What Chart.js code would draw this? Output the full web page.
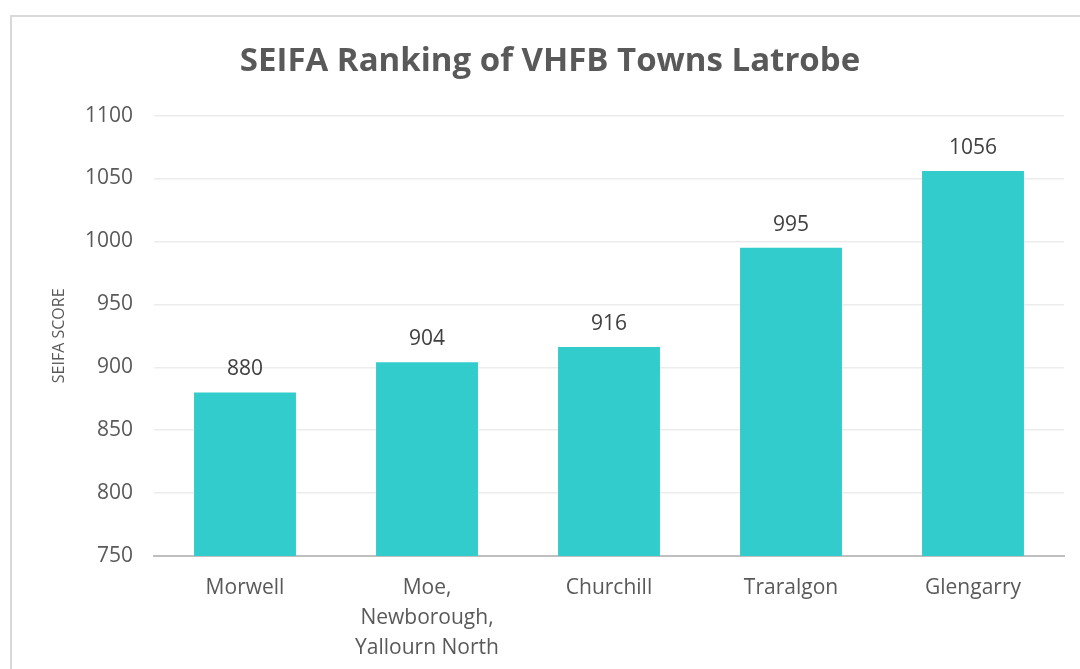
<!DOCTYPE html>
<html>
<head>
<meta charset="utf-8">
<title>SEIFA Ranking</title>
<script src="https://cdn.jsdelivr.net/npm/chart.js@4.4.0/dist/chart.umd.min.js"></script>
<style>
  body { margin: 0; background: #fff; overflow: hidden; }
  .box { position: absolute; left: 10px; top: 15px; width: 1100px; height: 700px; border: 2px solid #d9d9d9; box-sizing: border-box; }
  .wrap { position: absolute; left: 10px; top: 15px; width: 1080px; height: 700px; }
</style>
</head>
<body>
<div class="box"></div>
<div class="wrap"><canvas id="gr1"></canvas></div>
<script>
const towns = ['Morwell', ['Moe,', 'Newborough,', 'Yallourn North'], 'Churchill', 'Traralgon', 'Glengarry'];
const seifaScores = [880, 904, 916, 995, 1056];
const yTicks = { min: 750, max: 1100, step: 50 };

const FONT = '"Open Sans", Lato, sans-serif';

// draw value above each bar
const valueLabels = {
  id: 'valueLabels',
  afterDatasetsDraw(chart) {
    const ctx = chart.ctx;
    const meta = chart.getDatasetMeta(0);
    ctx.save();
    ctx.font = '21px ' + FONT;
    ctx.fillStyle = '#404040';
    ctx.textAlign = 'center';
    ctx.textBaseline = 'middle';
    meta.data.forEach((bar, i) => {
      ctx.fillText(seifaScores[i], bar.x, bar.y - 23);
    });
    ctx.restore();
  }
};

let config = {
  type: 'bar',
  data: {
    labels: towns,
    datasets: [{
      data: seifaScores,
      backgroundColor: '#33CCCC',
      categoryPercentage: 1,
      barPercentage: 0.56
    }]
  },
  options: {
    responsive: true,
    maintainAspectRatio: false,
    animation: false,
    layout: { padding: { left: 26, right: 26, top: 0, bottom: 0 } },
    plugins: {
      legend: { display: false },
      tooltip: { enabled: false },
      title: {
        display: true,
        text: 'SEIFA Ranking of VHFB Towns Latrobe',
        color: '#595959',
        font: { family: FONT, size: 33, weight: 'bold' },
        padding: { top: 27, bottom: 34 }
      }
    },
    scales: {
      x: {
        grid: { display: false, drawTicks: false },
        border: { color: '#bfbfbf', width: 2 },
        ticks: {
          color: '#595959',
          padding: 17,
          maxRotation: 0,
          autoSkip: false,
          font: { family: FONT, size: 21, lineHeight: 1.43 }
        },
        afterFit(s) { s.height = 159; }
      },
      y: {
        min: yTicks.min,
        max: yTicks.max,
        grid: { color: '#ececec', lineWidth: 1.5, drawTicks: false },
        border: { display: false },
        ticks: {
          stepSize: yTicks.step,
          color: '#595959',
          padding: 21,
          font: { family: FONT, size: 21 },
          callback: v => String(v)
        },
        title: {
          display: true,
          text: 'SEIFA SCORE',
          color: '#595959',
          font: { family: FONT, size: 16 },
          padding: { top: 14, bottom: 0 }
        },
        afterFit(s) { s.width = 118; }
      }
    }
  },
  plugins: [valueLabels]
};

new Chart(document.getElementById('gr1').getContext('2d'), config);
</script>
</body>
</html>
